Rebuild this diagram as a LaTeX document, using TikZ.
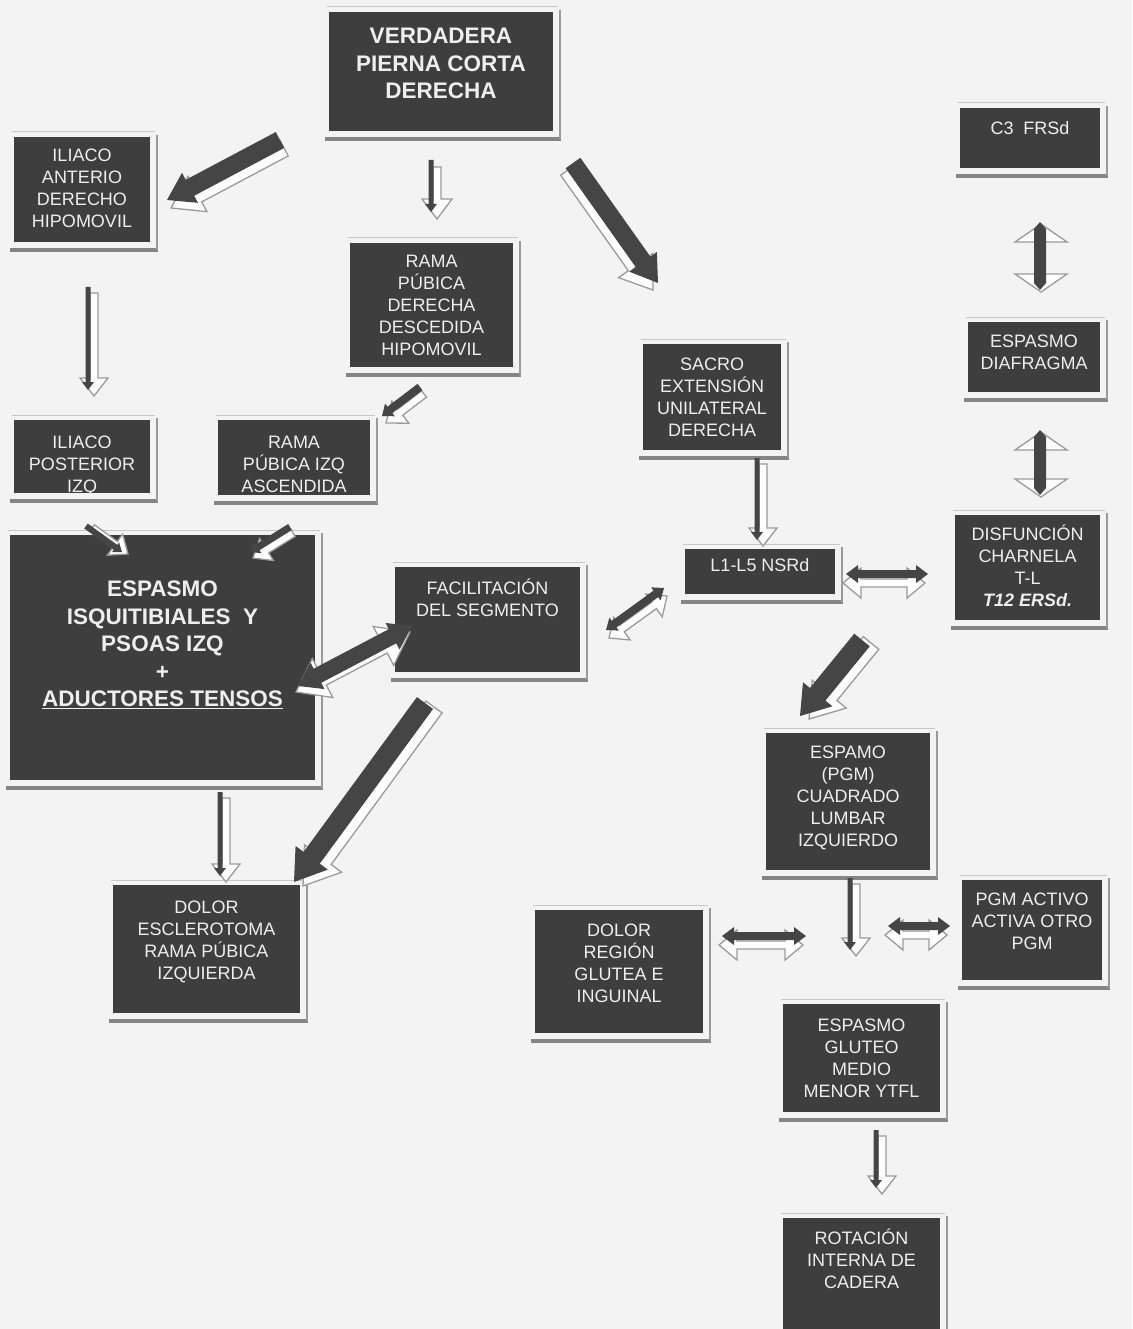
\documentclass[tikz,border=0pt]{standalone}
\usepackage{fontspec}
\setmainfont{Liberation Sans}
\usetikzlibrary{calc,fit}
\definecolor{bg}{HTML}{F3F3F3}
\definecolor{boxc}{HTML}{3E3E3E}
\definecolor{boxtxt}{HTML}{EEEEEE}
\definecolor{shl}{HTML}{858585}
\definecolor{shlr}{HTML}{9A9A9A}
\definecolor{arrd}{HTML}{454545}
\definecolor{arrl}{HTML}{9A9A9A}
\tikzset{
  boxnode/.style={fill=boxc, draw=none, inner sep=0pt},
  boxtext/.style={text=boxtxt, align=center, inner sep=0pt, anchor=north,
    yshift=13pt, execute at begin node={\rule{0pt}{17pt}},
    font=\fontsize{18}{22}\selectfont},
  boldtext/.style={text=boxtxt, align=center, inner sep=0pt, anchor=north,
    yshift=15pt, execute at begin node={\rule{0pt}{21pt}},
    font=\fontsize{22.5}{27.5}\selectfont\bfseries},
  darkarrow/.style={fill=arrd},
  lightarrow/.style={fill=white, draw=arrl, line width=1.3pt, line join=miter},
}
% box: name, x1, y1, x2, y2, baseline of first line, text style, text
\newcommand\dbox[8]{%
  \draw[shl, line width=4pt] ({#2-4},{#5+8}) -- ({#4+8},{#5+8});
  \draw[shlr, line width=2pt] ({#4+7},{#3-2}) -- ({#4+7},{#5+8});
  \draw[black!22, line width=1pt] ({#2-2},{#3-5}) -- ({#4+5},{#3-5});
  \node[boxnode, fit={(#2,#3) (#4,#5)}] (#1) {};
  \begin{scope}
    \clip (#2,#3) rectangle (#4,#5);
    \node[#7] (#1t) at ({(#2+#4)/2},#6) {#8};
  \end{scope}
}
% single block arrow polygon: style, A, B, w, h, lh
\newcommand\sArrow[6]{%
  \path[#1] ($(#2)!#4!-90:(#3)$) -- ($(#3)!#6!(#2)!#4!90:(#2)$)
    -- ($(#3)!#6!(#2)!#5!90:(#2)$) -- (#3)
    -- ($(#3)!#6!(#2)!#5!-90:(#2)$) -- ($(#3)!#6!(#2)!#4!-90:(#2)$)
    -- ($(#2)!#4!90:(#3)$) -- cycle;}
% double block arrow polygon
\newcommand\dArrow[6]{%
  \path[#1] (#2) -- ($(#2)!#6!(#3)!#5!90:(#3)$) -- ($(#2)!#6!(#3)!#4!90:(#3)$)
    -- ($(#3)!#6!(#2)!#4!-90:(#2)$) -- ($(#3)!#6!(#2)!#5!-90:(#2)$) -- (#3)
    -- ($(#3)!#6!(#2)!#5!90:(#2)$) -- ($(#3)!#6!(#2)!#4!90:(#2)$)
    -- ($(#2)!#6!(#3)!#4!-90:(#3)$) -- ($(#2)!#6!(#3)!#5!-90:(#3)$) -- cycle;}
% 3D arrows: A, B, dark w h lh, light w h lh, shift
\newcommand\arrowS[9]{%
  \begin{scope}[transform canvas={shift={#9}}]\sArrow{lightarrow}{#1}{#2}{#6}{#7}{#8}\end{scope}
  \sArrow{darkarrow}{#1}{#2}{#3}{#4}{#5}}
\newcommand\arrowD[9]{%
  \begin{scope}[transform canvas={shift={#9}}]\dArrow{lightarrow}{#1}{#2}{#6}{#7}{#8}\end{scope}
  \dArrow{darkarrow}{#1}{#2}{#3}{#4}{#5}}
\begin{document}
\begin{tikzpicture}[x=1pt,y=-1pt]
\fill[bg] (0,0) rectangle (1132,1329);
\useasboundingbox (0,0) rectangle (1132,1329);

% ---------------- boxes ----------------
\dbox{verd}{329}{12}{553}{131}{43}{boldtext}{VERDADERA\\PIERNA CORTA\\DERECHA}
\dbox{ilant}{14}{137}{150}{242}{161.5}{boxtext}{ILIACO\\ANTERIO\\DERECHO\\HIPOMOVIL}
\dbox{ramder}{350}{243}{513}{367}{267.5}{boxtext}{RAMA\\PÚBICA\\DERECHA\\DESCEDIDA\\HIPOMOVIL}
\dbox{sacro}{643}{344}{781}{450}{370.5}{boxtext}{SACRO\\EXTENSIÓN\\UNILATERAL\\DERECHA}
\dbox{cthree}{960}{108}{1100}{168}{130.5}{boxtext}{C3~~FRSd}
\dbox{diaf}{968}{322}{1100}{392}{347.5}{boxtext}{ESPASMO\\DIAFRAGMA}
\dbox{disf}{955}{515}{1100}{620}{537.5}{boxtext}{DISFUNCIÓN\\CHARNELA\\T-L\\\textbf{\textit{T12 ERSd.}}}
\dbox{lumb}{685}{549}{835}{594}{567.5}{boxtext}{L1-L5 NSRd}
\dbox{facil}{395}{567}{580}{672}{591.5}{boxtext}{FACILITACIÓN\\DEL SEGMENTO}
\dbox{isq}{10}{535}{315}{780}{596}{boldtext}{ESPASMO\\ISQUITIBIALES~~Y\\PSOAS IZQ\\+\\\underline{ADUCTORES TENSOS}}
\dbox{ilpos}{14}{420}{150}{493}{448.5}{boxtext}{ILIACO\\POSTERIOR\\IZQ}
\dbox{ramizq}{218}{420}{370}{495}{448.5}{boxtext}{RAMA\\PÚBICA IZQ\\ASCENDIDA}
\dbox{cuad}{766}{733}{930}{870}{758.5}{boxtext}{ESPAMO\\(PGM)\\CUADRADO\\LUMBAR\\IZQUIERDO}
\dbox{desc}{113}{885}{300}{1013}{913.5}{boxtext}{DOLOR\\ESCLEROTOMA\\RAMA PÚBICA\\IZQUIERDA}
\dbox{dreg}{535}{910}{703}{1033}{936.5}{boxtext}{DOLOR\\REGIÓN\\GLUTEA E\\INGUINAL}
\dbox{pgm}{962}{880}{1102}{980}{905.5}{boxtext}{PGM ACTIVO\\ACTIVA OTRO\\PGM}
\dbox{glut}{783}{1004}{940}{1112}{1031.5}{boxtext}{ESPASMO\\GLUTEO\\MEDIO\\MENOR YTFL}
\dbox{rot}{783}{1218}{940}{1345}{1241.5}{boxtext}{ROTACIÓN\\INTERNA DE\\CADERA}

% ---------------- arrow end points ----------------
\coordinate (a1s) at (280,140);  \coordinate (a1e) at (167,200);
\coordinate (a2s) at (431,160);  \coordinate (a2e) at (431,212);
\coordinate (a3s) at (573,163);  \coordinate (a3e) at (658,283);
\coordinate (a4s) at (1040,222); \coordinate (a4e) at (1040,290);
\coordinate (a5s) at (1040,430); \coordinate (a5e) at (1040,495);
\coordinate (a6s) at (88,287);   \coordinate (a6e) at (88,390);
\coordinate (a7s) at (420,387);  \coordinate (a7e) at (382,416);
\coordinate (a8s) at (757,458);  \coordinate (a8e) at (757,540);
\coordinate (a9s) at (86,526);   \coordinate (a9e) at (122,552);
\coordinate (a10s) at (290,527); \coordinate (a10e) at (250,552);
\coordinate (a11s) at (664,588); \coordinate (a11e) at (606,630);
\coordinate (a12s) at (412,626); \coordinate (a12e) at (298,686);
\coordinate (a13s) at (846,574); \coordinate (a13e) at (928,574);
\coordinate (a14s) at (862,640); \coordinate (a14e) at (800,716);
\coordinate (a15s) at (220,792); \coordinate (a15e) at (220,876);
\coordinate (a16s) at (425,703); \coordinate (a16e) at (294,882);
\coordinate (a17s) at (722,936); \coordinate (a17e) at (806,936);
\coordinate (a18s) at (850,878); \coordinate (a18e) at (850,950);
\coordinate (a19s) at (888,926); \coordinate (a19e) at (950,926);
\coordinate (a20s) at (876,1130); \coordinate (a20e) at (876,1188);

% ---------------- arrows ----------------
\arrowS{a1s}{a1e}{9pt}{17pt}{26pt}{9pt}{20pt}{30pt}{(4,8)}
\arrowS{a2s}{a2e}{2.5pt}{6pt}{8pt}{4pt}{15pt}{20pt}{(6,7)}
\arrowS{a3s}{a3e}{9pt}{17pt}{26pt}{9pt}{21pt}{30pt}{(-5,7)}
\arrowD{a4s}{a4e}{6pt}{6pt}{7pt}{4pt}{26pt}{18pt}{(1,2)}
\arrowD{a5s}{a5e}{6pt}{6pt}{7pt}{4pt}{26pt}{18pt}{(1,2)}
\arrowS{a6s}{a6e}{2.5pt}{6pt}{8pt}{4pt}{14pt}{18pt}{(6,6)}
\arrowS{a7s}{a7e}{4pt}{8pt}{10pt}{4pt}{14pt}{18pt}{(4,7)}
\arrowS{a8s}{a8e}{2.5pt}{6pt}{8pt}{4pt}{14pt}{18pt}{(6,6)}
\arrowS{a9s}{a9e}{3pt}{6pt}{8pt}{4pt}{13pt}{16pt}{(6,2)}
\arrowS{a10s}{a10e}{3.5pt}{7pt}{9pt}{4pt}{13pt}{16pt}{(3,6)}
\arrowD{a11s}{a11e}{4pt}{8pt}{10pt}{4pt}{14pt}{16pt}{(3,8)}
\arrowD{a12s}{a12e}{8pt}{15pt}{22pt}{8pt}{22pt}{30pt}{(-2,6)}
\arrowD{a13s}{a13e}{4pt}{9pt}{12pt}{4pt}{15pt}{18pt}{(-3,9)}
\arrowS{a14s}{a14e}{10pt}{19pt}{28pt}{10pt}{22pt}{32pt}{(9,3)}
\arrowS{a15s}{a15e}{2.5pt}{6pt}{8pt}{4pt}{14pt}{18pt}{(6,6)}
\arrowS{a16s}{a16e}{10pt}{20pt}{30pt}{10pt}{23pt}{34pt}{(9,4)}
\arrowD{a17s}{a17e}{4pt}{9pt}{12pt}{4pt}{15pt}{18pt}{(-3,9)}
\arrowS{a18s}{a18e}{2.5pt}{6pt}{8pt}{4pt}{14pt}{18pt}{(6,6)}
\arrowD{a19s}{a19e}{4pt}{9pt}{12pt}{4pt}{15pt}{18pt}{(-3,9)}
\arrowS{a20s}{a20e}{2.5pt}{6pt}{8pt}{4pt}{14pt}{18pt}{(6,6)}
\end{tikzpicture}
\end{document}
